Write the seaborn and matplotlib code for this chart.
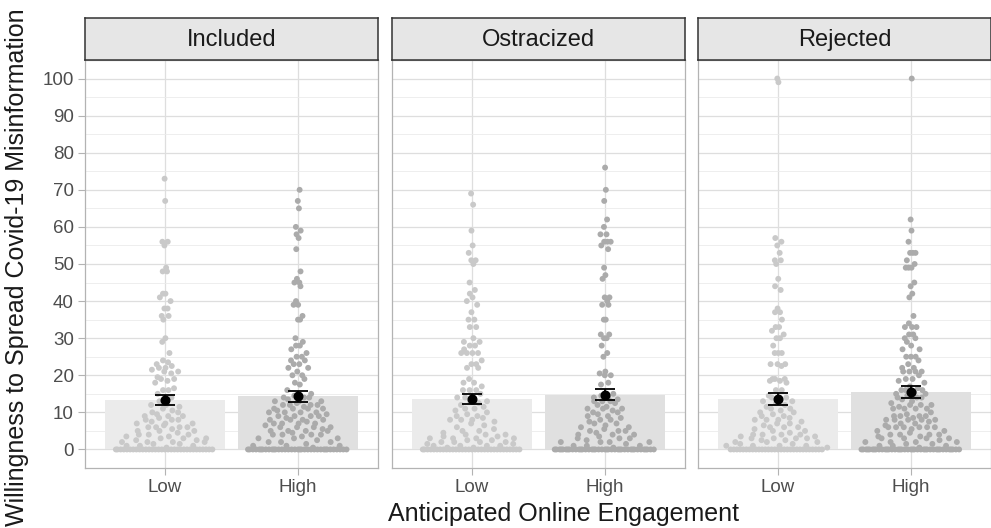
import numpy as np
import pandas as pd
import matplotlib
matplotlib.use("Agg")
import matplotlib.pyplot as plt
import seaborn as sns

# ---------------- data ----------------
conditions = ["Included", "Ostracized", "Rejected"]
engagement = ["Low", "High"]
y_ticks = [0, 10, 20, 30, 40, 50, 60, 70, 80, 90, 100]

included_low = [73, 67, 56, 56, 55, 49, 48, 48, 42, 42, 41, 40, 38, 38, 36, 36, 35,
                30, 29, 26, 24, 23.5, 23, 22.5, 22, 22, 21.5, 21, 21, 20.5, 19.5, 19,
                19, 18.5, 18, 16.5, 16, 16, 15, 14, 13, 12, 12, 11.5, 11, 10.5, 10, 10,
                9.5, 9, 9, 9, 8.5, 8, 8, 8, 7.5, 7, 7, 7, 6.5, 6, 6, 6, 6, 5.5, 5, 5,
                5, 4.5, 4, 4, 4, 3.5, 3.5, 3, 3, 3, 2.5, 2.5, 2, 2, 2, 2, 1.5, 1.5, 1,
                1, 1, 0.5]
included_low_zeros = 32

included_high = [70, 67, 65, 60, 59, 58, 57, 54, 48, 46, 45, 45, 44, 40, 39, 39, 36,
                 35, 35, 30, 29, 28, 28, 27, 26, 25, 25, 24, 24, 23, 23, 22, 22, 21,
                 20, 20, 19, 18, 17.5, 16, 15, 14.5, 14, 14, 14, 13.5, 13, 13, 13, 12.5,
                 12, 12, 12, 12, 11.5, 11, 11, 11, 11, 10.5, 10, 10, 10, 10, 9.5, 9, 9,
                 9, 9, 8.5, 8, 8, 8, 8, 7.5, 7, 7, 7, 7, 6.5, 6, 6, 6, 6, 5.5, 5, 5, 5,
                 5, 4.5, 4, 4, 4, 4, 3.5, 3, 3, 3, 2.5, 2, 2, 2, 1.5, 1, 1, 1, 0.5]
included_high_zeros = 36

ostracized_low = [69, 66, 59, 55, 53, 51, 51, 50, 45, 43, 42, 41, 40, 39, 37, 35, 35,
                  33, 33, 30, 29, 29, 28, 28, 27, 26, 26, 26, 26, 24, 23, 23, 22, 22,
                  19, 18, 18, 17, 16, 16, 16, 15, 14, 14, 14, 13, 13, 12.5, 12, 11.5,
                  11, 11, 10.5, 10, 9.5, 9, 9, 8.5, 8, 8, 8, 7.5, 7, 6.5, 6, 5.5, 5, 5,
                  4.5, 4, 4, 4, 3.5, 3.5, 3, 3, 3, 3, 2.5, 2.5, 2, 2, 2, 2, 1.5, 1.5,
                  1, 1, 1, 1, 0.5, 0.5]
ostracized_low_zeros = 32

ostracized_high = [76, 70, 67, 62, 60, 58, 58, 56, 56, 56, 55, 54, 49, 47, 46, 41, 41,
                   40, 39, 39, 35, 35, 31, 31, 30, 30, 28, 26, 25, 21, 20.5, 20, 20,
                   18, 17.5, 15, 14.5, 14, 14, 13.5, 13, 13, 13, 12.5, 12, 11.5, 11, 11,
                   11, 10.5, 10, 10, 9.5, 9, 9, 8.5, 8, 8, 7.5, 7, 7, 6.5, 6, 6, 5.5, 5,
                   5, 5, 4.5, 4, 4, 4, 3.5, 3, 3, 3, 2.5, 2, 2, 2, 2, 1.5, 1, 1, 1, 0.5]
ostracized_high_zeros = 40

rejected_low = [100, 99, 57, 56, 55, 53, 51, 51, 50, 46, 44, 43, 38, 37, 37, 35, 33,
                33, 32, 31, 30, 30, 28, 26, 26, 26, 23, 23, 23, 22.5, 19, 19, 19, 18.5,
                18.5, 18, 16, 16, 14.5, 14, 14, 13.5, 13, 13, 12.5, 12, 11.5, 11, 11,
                10.5, 10, 10, 9.5, 9, 9, 8.5, 8, 8, 8, 7.5, 7, 7, 6.5, 6, 6, 6, 5.5, 5,
                5, 4.5, 4, 4, 4, 4, 3.5, 3.5, 3, 3, 3, 3, 2.5, 2.5, 2, 2, 2, 1.5, 1.5,
                1, 1, 1, 1, 0.5]
rejected_low_zeros = 30

rejected_high = [100, 62, 59, 56, 53, 53, 53, 51, 50, 49, 49, 49, 45, 44, 42, 41, 36,
                 34, 33, 33, 33, 31, 31, 30, 30, 29, 28, 27, 27, 25, 25, 25, 24, 23,
                 22, 22, 21, 21, 21, 21, 20, 19, 19, 18.5, 18, 17, 16.5, 16, 16, 16,
                 15.5, 15, 15, 14.5, 14, 14, 14, 13.5, 13, 12.5, 12, 12, 12, 11.5, 11,
                 11, 11, 11, 10, 9.5, 9, 9, 9, 9, 8.5, 8, 8, 8, 8, 8, 7.5, 7, 7, 6.5, 6,
                 6, 6, 6, 6, 6, 5.5, 5, 5, 4.5, 4, 4, 4, 4, 3.5, 3.5, 3, 3, 3, 3, 2.5,
                 2, 2, 2, 2, 1.5, 1.5, 1, 1, 1, 0.5]
rejected_high_zeros = 40

mean_low = [13.4, 13.6, 13.6]
mean_high = [14.3, 14.8, 15.5]
se_low = [1.4, 1.45, 1.5]
se_high = [1.55, 1.6, 1.5]

# ---------------- assemble tables ----------------
raw = {
    ("Included", "Low"): (included_low, included_low_zeros),
    ("Included", "High"): (included_high, included_high_zeros),
    ("Ostracized", "Low"): (ostracized_low, ostracized_low_zeros),
    ("Ostracized", "High"): (ostracized_high, ostracized_high_zeros),
    ("Rejected", "Low"): (rejected_low, rejected_low_zeros),
    ("Rejected", "High"): (rejected_high, rejected_high_zeros),
}


def vdc(n, base=2):
    out = []
    for i in range(1, n + 1):
        q, denom, k = 0.0, 1.0, i
        while k:
            denom *= base
            k, r = divmod(k, base)
            q += r / denom
        out.append(q)
    return np.array(out)


def quasirandom(y, width=0.4, adjust=0.5):
    y = np.asarray(y, float)
    n = len(y)
    sd = y.std(ddof=1)
    iqr = np.subtract(*np.percentile(y, [75, 25]))
    lo = min(sd, iqr / 1.34) if iqr > 0 else sd
    bw = 0.9 * lo * n ** -0.2 * adjust
    dens = np.exp(-0.5 * ((y[:, None] - y[None, :]) / bw) ** 2).sum(1)
    dens = dens / dens.max()
    ranks = np.argsort(np.argsort(y, kind="stable"), kind="stable")
    return (vdc(n)[ranks] - 0.5) * 2 * width * dens


rows = []
for (cond, eng), (vals, nz) in raw.items():
    y = np.array(list(vals) + [0] * nz, float)
    off = quasirandom(y)
    base = engagement.index(eng)
    for v, o in zip(y, off):
        rows.append({"condition": cond, "engagement": eng, "value": v, "xpos": base + o})
points = pd.DataFrame(rows)

summary = pd.DataFrame({
    "condition": conditions * 2,
    "engagement": ["Low"] * 3 + ["High"] * 3,
    "mean": mean_low + mean_high,
    "se": se_low + se_high,
})

# ---------------- figure ----------------
sns.set_theme(style="white")
plt.rcParams["font.family"] = ["Liberation Sans", "DejaVu Sans"]

W, H = 991, 528
fig = plt.figure(figsize=(W / 100, H / 100), dpi=100)

lefts = [85, 392, 698]
pw = 293
p_top, p_bot = 60, 468
s_top = 18

bar_pal = {"Low": "#EBEBEB", "High": "#E0E0E0"}
pt_pal = {"Low": "#C9C9C9", "High": "#ABABAB"}

for i, cond in enumerate(conditions):
    ax = fig.add_axes([lefts[i] / W, 1 - p_bot / H, pw / W, (p_bot - p_top) / H])
    sm = summary[summary.condition == cond]
    sns.barplot(data=sm, x="engagement", y="mean", hue="engagement", order=engagement,
                hue_order=engagement, palette=bar_pal, width=0.9, errorbar=None,
                legend=False, ax=ax, zorder=1, linewidth=0)
    pp = points[points.condition == cond]
    sns.scatterplot(data=pp, x="xpos", y="value", hue="engagement", palette=pt_pal,
                    s=18, linewidth=0, legend=False, ax=ax, zorder=3)
    for j, eng in enumerate(engagement):
        r = sm[sm.engagement == eng].iloc[0]
        ax.errorbar([j], [r["mean"]], yerr=[r["se"]], fmt="o", color="black",
                    ms=6.2, capsize=7, elinewidth=1.3, capthick=1.3, zorder=5)

    ax.set_xlim(-0.6, 1.6)
    ax.set_ylim(-5, 105)
    ax.set_xticks([0, 1])
    ax.set_xticklabels(engagement)
    ax.set_yticks(y_ticks)
    ax.set_yticks([5, 15, 25, 35, 45, 55, 65, 75, 85, 95], minor=True)
    ax.set_axisbelow(True)
    ax.grid(which="major", color="#DEDEDE", lw=0.9)
    ax.grid(which="minor", axis="y", color="#EBEBEB", lw=0.6)
    ax.set_xlabel("")
    ax.set_ylabel("")
    for sp in ax.spines.values():
        sp.set_visible(True)
        sp.set_color("#B3B3B3")
        sp.set_linewidth(0.9)
    ax.tick_params(axis="both", which="major", length=5, width=0.8, color="#B3B3B3",
                   labelsize=13.5, labelcolor="#4D4D4D", left=True, bottom=True, pad=3)
    ax.tick_params(axis="y", which="minor", length=0)
    if i > 0:
        ax.tick_params(axis="y", left=False, labelleft=False)

    sax = fig.add_axes([lefts[i] / W, 1 - p_top / H, pw / W, (p_top - s_top) / H])
    sax.set_facecolor("#E6E6E6")
    sax.set_xticks([])
    sax.set_yticks([])
    for sp in sax.spines.values():
        sp.set_visible(True)
        sp.set_color("#333333")
        sp.set_linewidth(1.1)
    sax.text(0.5, 0.48, cond, ha="center", va="center", fontsize=17, color="#1A1A1A",
             transform=sax.transAxes)

fig.text(17 / W, 1 - 267 / H, "Willingness to Spread Covid-19 Misinformation",
         rotation=90, ha="center", va="center", fontsize=18, color="#1A1A1A")
fig.text(564 / W, 1 - 514 / H, "Anticipated Online Engagement",
         ha="center", va="center", fontsize=18, color="#1A1A1A")

fig.savefig("out.png", dpi=100)
